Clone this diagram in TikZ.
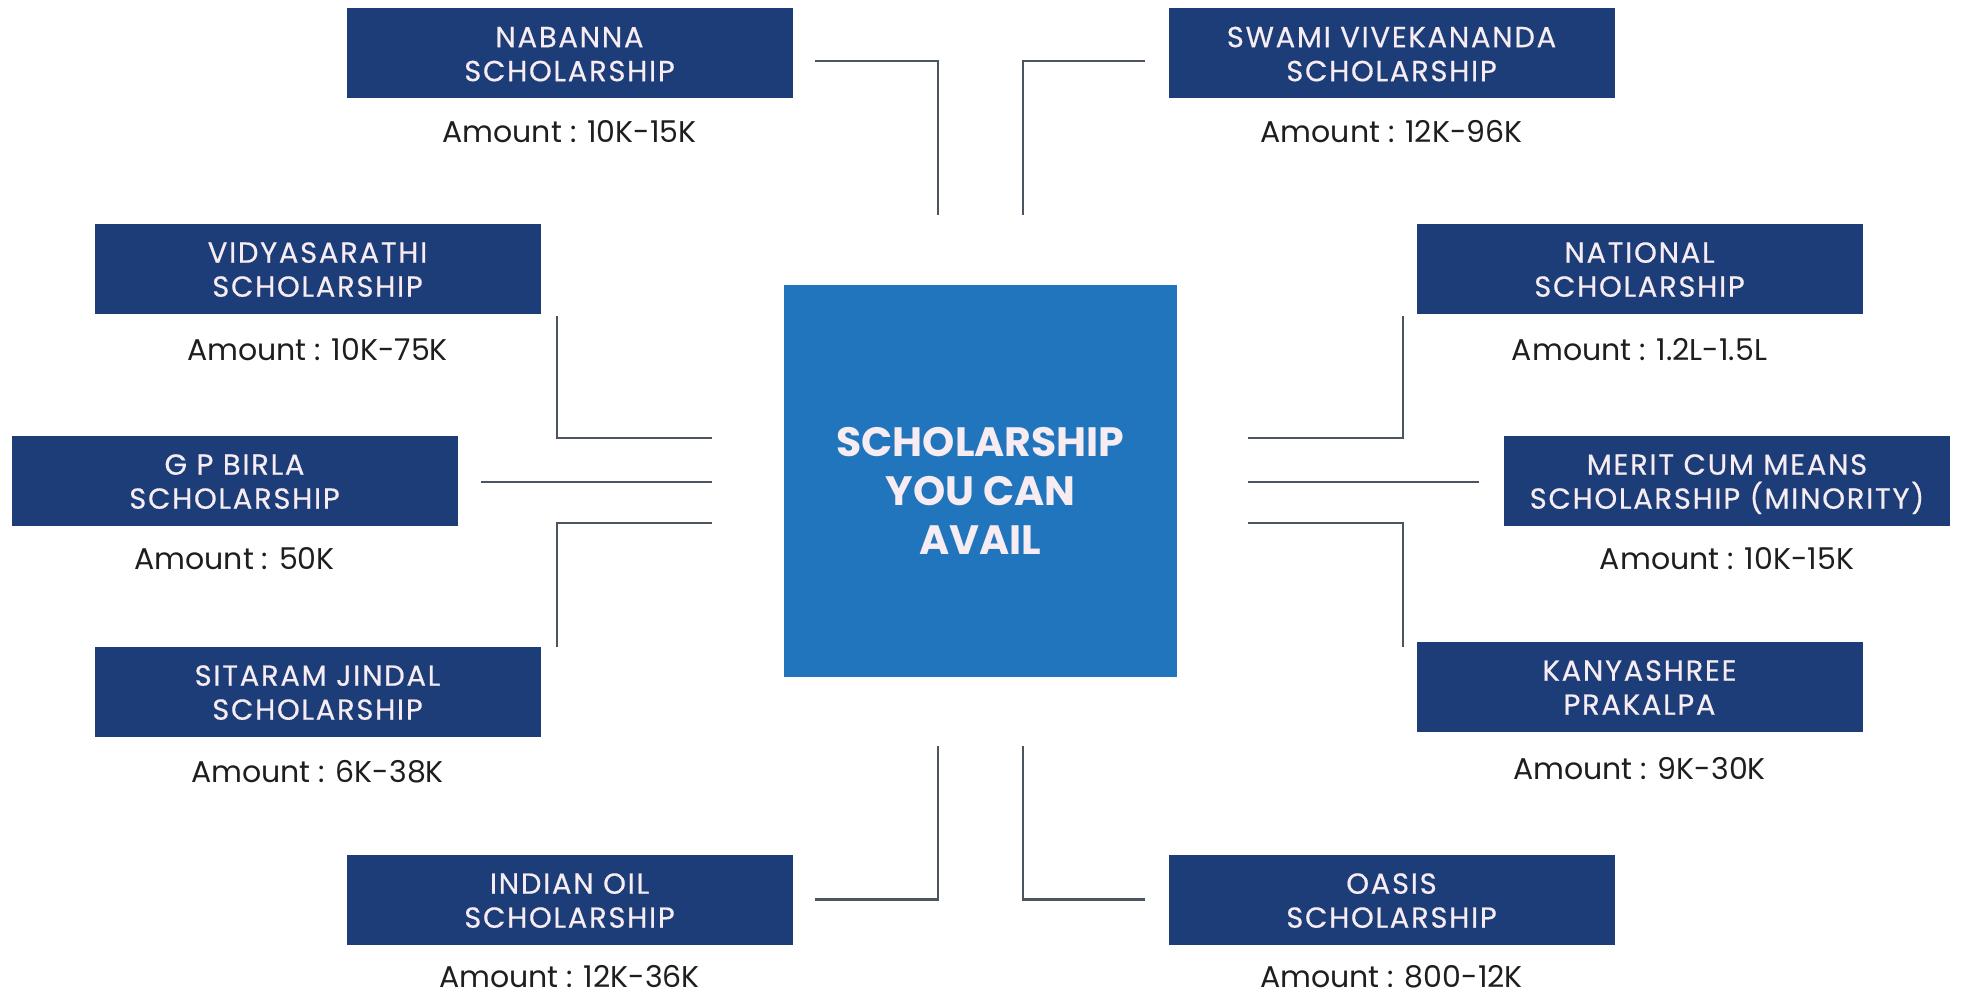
\documentclass[tikz,border=0pt]{standalone}
\usepackage{fontspec}
\setmainfont{Poppins}
\newfontfamily\capsfont{Poppins}[LetterSpace=6,FakeBold=0.5]
\usepackage{xcolor}
\usepackage{tikz}
\usetikzlibrary{positioning,calc}

\definecolor{boxblue}{HTML}{1C3D78}
\definecolor{hubblue}{HTML}{2175BD}
\definecolor{linegray}{HTML}{4A5561}
\definecolor{capwhite}{HTML}{F6ECF1}
\definecolor{amtblack}{HTML}{1E1E1E}

\tikzset{
	scheme/.style={minimum width=223pt,minimum height=45pt,inner sep=0pt,fill=boxblue,text=capwhite,align=center,font=\capsfont\fontsize{14.5}{17}\selectfont,text height=28.2pt,text depth=0pt},
	hub/.style={minimum width=196.5pt,minimum height=196pt,inner sep=0pt,fill=hubblue,text=capwhite,align=center,font=\bfseries\fontsize{20.5}{24.5}\selectfont,text height=73.3pt,text depth=0pt},
	amount/.style={inner sep=0pt,text=amtblack,font=\fontsize{15}{16}\selectfont},
	link/.style={draw=linegray,line width=1.2pt}
}

\begin{document}
\begin{tikzpicture}[x=0.5pt,y=-0.5pt]
		\useasboundingbox (0,0) rectangle (1963,998);
		\node[hub] (hub) at (980.5,481) {SCHOLARSHIP\\YOU CAN\\AVAIL};
		
		\node[scheme] (nab) at (569.5,53) {NABANNA\\SCHOLARSHIP};
		\node[scheme] (swami) at (1391.5,53) {SWAMI VIVEKANANDA\\SCHOLARSHIP};
		\node[scheme] (vidya) at (317.5,268.5) {VIDYASARATHI\\SCHOLARSHIP};
		\node[scheme] (natl) at (1639.5,268.5) {NATIONAL\\SCHOLARSHIP};
		\node[scheme] (gp) at (234.5,480.5) {G P BIRLA\\SCHOLARSHIP};
		\node[scheme] (merit) at (1727,480.5) {MERIT CUM MEANS\\SCHOLARSHIP (MINORITY)};
		\node[scheme] (jindal) at (317.5,691.5) {SITARAM JINDAL\\SCHOLARSHIP};
		\node[scheme] (kanya) at (1639.5,686.5) {KANYASHREE\\PRAKALPA};
		\node[scheme] (ioil) at (569.5,899.5) {INDIAN OIL\\SCHOLARSHIP};
		\node[scheme] (oasis) at (1391.5,899.5) {OASIS\\SCHOLARSHIP};
		
		\node[amount,shift={(0,33)}] (nabamt) at (nab.south) {Amount : 10K-15K};
		\node[amount,shift={(0,33)}] (swamiamt) at (swami.south) {Amount : 12K-96K};
		\node[amount,shift={(0,36)}] (vidyaamt) at (vidya.south) {Amount : 10K-75K};
		\node[amount,shift={(0,36)}] (natlamt) at (natl.south) {Amount : 1.2L-1.5L};
		\node[amount,shift={(0,33)}] (gpamt) at (gp.south) {Amount : 50K};
		\node[amount,shift={(0,33)}] (meritamt) at (merit.south) {Amount : 10K-15K};
		\node[amount,shift={(0,35)}] (jindalamt) at (jindal.south) {Amount : 6K-38K};
		\node[amount,shift={(0,37)}] (kanyaamt) at (kanya.south) {Amount : 9K-30K};
		\node[amount,shift={(0,32)}] (ioilamt) at (ioil.south) {Amount : 12K-36K};
		\node[amount,shift={(0,32)}] (oasisamt) at (oasis.south) {Amount : 800-12K};
		
		\draw[link] ([shift={(22,8)}]nab.east) -| ([shift={(-42.5,-70)}]hub.north);
		\draw[link] ([shift={(-23,8)}]swami.west) -| ([shift={(42.5,-70)}]hub.north);
		\draw[link] ([shift={(16,2)}]vidya.south east) |- ([shift={(-72,-43)}]hub.west);
		\draw[link] ([shift={(23,1.5)}]gp.east) -- ([shift={(-72,1)}]hub.west);
		\draw[link] ([shift={(16,1)}]jindal.north east) |- ([shift={(-72,42)}]hub.west);
		\draw[link] ([shift={(-13,2)}]natl.south west) |- ([shift={(71,-43)}]hub.east);
		\draw[link] ([shift={(-25,1.5)}]merit.west) -- ([shift={(71,1)}]hub.east);
		\draw[link] ([shift={(-13,6)}]kanya.north west) |- ([shift={(71,42)}]hub.east);
		\draw[link] ([shift={(22,0)}]ioil.east) -| ([shift={(-42.5,69)}]hub.south);
		\draw[link] ([shift={(-23,0)}]oasis.west) -| ([shift={(42.5,69)}]hub.south);
	\end{tikzpicture}
\end{document}
